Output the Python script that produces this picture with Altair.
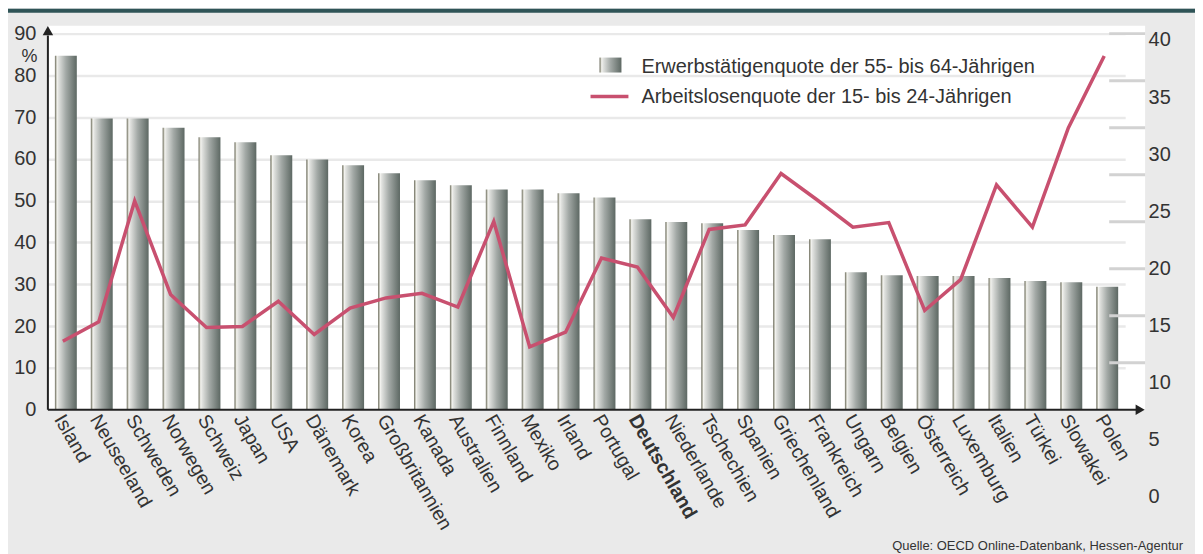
import altair as alt
import pandas as pd

countries = ["Island", "Neuseeland", "Schweden", "Norwegen", "Schweiz", "Japan", "USA",
             "Dänemark", "Korea", "Großbritannien", "Kanada", "Australien", "Finnland",
             "Mexiko", "Irland", "Portugal", "Deutschland", "Niederlande", "Tschechien",
             "Spanien", "Griechenland", "Frankreich", "Ungarn", "Belgien", "Österreich",
             "Luxemburg", "Italien", "Türkei", "Slowakei", "Polen"]
employment = [84.7, 69.7, 69.7, 67.5, 65.2, 64.0, 60.9, 59.9, 58.5, 56.6, 54.9, 53.7, 52.7,
              52.7, 51.8, 50.8, 45.6, 44.9, 44.6, 43.0, 41.8, 40.8, 32.9, 32.2, 32.0, 32.0,
              31.5, 30.8, 30.5, 29.4]
unemployment = [13.6, 15.3, 25.9, 17.7, 14.8, 14.9, 17.1, 14.2, 16.5, 17.4, 17.8, 16.6, 24.1,
                13.1, 14.4, 20.9, 20.1, 15.7, 23.4, 23.8, 28.3, 26.0, 23.6, 24.0, 16.3, 19.0,
                27.3, 23.6, 32.3, 38.6]
left_ticks = [0, 10, 20, 30, 40, 50, 60, 70, 80, 90]
right_ticks = [0, 5, 10, 15, 20, 25, 30, 35, 40]
right_marks = [11.25, 22.5, 33.75, 45, 56.25, 67.5, 78.75, 90]
legend_labels = ["Erwerbstätigenquote der 55- bis 64-Jährigen",
                 "Arbeitslosenquote der 15- bis 24-Jährigen"]
source_text = "Quelle: OECD Online-Datenbank, Hessen-Agentur"

FONT = "Liberation Sans"
TXT = "#333333"
LINE_COLOR = "#c8506f"
W, H = 1100, 385

df = pd.DataFrame({"land": countries, "erw": employment, "alq": unemployment})
one = pd.DataFrame({"a": [0]})

bar_grad = alt.Gradient(
    gradient="linear", x1=0, x2=1, y1=0, y2=0,
    stops=[
        alt.GradientStop(offset=0.0, color="#6c6c5e"),
        alt.GradientStop(offset=0.05, color="#a9a99b"),
        alt.GradientStop(offset=0.1, color="#f4f4f0"),
        alt.GradientStop(offset=0.16, color="#e2e3e0"),
        alt.GradientStop(offset=0.5, color="#a3a9a6"),
        alt.GradientStop(offset=1.0, color="#5d6863"),
    ],
)

xscale = alt.Scale(domain=countries, range=[0, 1080], paddingInner=0.39, paddingOuter=0.195)
yleft = alt.Scale(domain=[0, 90], range=[H, 8], nice=False, zero=False)
yright = alt.Scale(domain=[0, 40], range=[472, 14.4], nice=False, zero=False)

bars = alt.Chart(df).mark_bar(color=bar_grad).encode(
    x=alt.X("land:N", scale=xscale, sort=countries, title=None,
            axis=alt.Axis(labelAngle=60, labelAlign="left", labelBaseline="middle",
                          labelFontSize=19.5, labelFont=FONT, labelColor=TXT,
                          labelPadding=6, labelOffset=-7,
                          labelFontWeight=alt.ExprRef(expr="datum.value == 'Deutschland' ? 'bold' : 'normal'"),
                          ticks=False, domain=False, grid=False, labelOverlap=False)),
    y=alt.Y("erw:Q", scale=yleft, title="%",
            axis=alt.Axis(values=left_ticks, orient="left", labelFontSize=20, labelFont=FONT,
                          labelColor=TXT, labelPadding=12, ticks=False, domain=False,
                          grid=True, gridColor="#e9e9e9", gridWidth=2.5,
                          titleAngle=0, titleX=-19, titleY=40, titleFontSize=18,
                          titleFont=FONT, titleFontWeight="normal", titleColor=TXT)),
)

line = alt.Chart(df).mark_line(color=LINE_COLOR, strokeWidth=3.5, strokeJoin="miter", xOffset=-3).encode(
    x=alt.X("land:N", scale=xscale, sort=countries),
    y=alt.Y("alq:Q", scale=yright, title=None,
            axis=alt.Axis(values=right_ticks, orient="right", labelFontSize=20, labelFont=FONT,
                          labelColor=TXT, labelPadding=3, ticks=False, domain=False, grid=False)),
)

rmarks = alt.Chart(pd.DataFrame({"t": right_marks})).mark_rule(color="#d2d2d2", strokeWidth=3).encode(
    y=alt.Y("t:Q", scale=yleft, axis=None),
    x=alt.value(1064), x2=alt.value(W),
)

yaxis_line = alt.Chart(one).mark_rule(color="#222222", strokeWidth=2).encode(
    x=alt.value(0), y=alt.value(H), y2=alt.value(10))
xaxis_line = alt.Chart(one).mark_rule(color="#222222", strokeWidth=2).encode(
    x=alt.value(0), x2=alt.value(1092), y=alt.value(H))
arrow_up = alt.Chart(one).mark_point(shape="triangle-up", filled=True, size=110, color="#222222", opacity=1).encode(
    x=alt.value(0), y=alt.value(5))
arrow_right = alt.Chart(one).mark_point(shape="triangle-right", filled=True, size=110, color="#222222", opacity=1).encode(
    x=alt.value(1095), y=alt.value(H))

leg_rect = alt.Chart(one).mark_rect(color=bar_grad).encode(
    x=alt.value(553), x2=alt.value(575), y=alt.value(32), y2=alt.value(47))
leg_line = alt.Chart(one).mark_rule(color=LINE_COLOR, strokeWidth=3.5).encode(
    x=alt.value(544), x2=alt.value(582), y=alt.value(71))
leg_t1 = alt.Chart(pd.DataFrame({"t": [legend_labels[0]]})).mark_text(
    align="left", baseline="middle", fontSize=20, font=FONT, color=TXT).encode(
    x=alt.value(595), y=alt.value(41), text="t:N")
leg_t2 = alt.Chart(pd.DataFrame({"t": [legend_labels[1]]})).mark_text(
    align="left", baseline="middle", fontSize=20, font=FONT, color=TXT).encode(
    x=alt.value(595), y=alt.value(72), text="t:N")
src = alt.Chart(pd.DataFrame({"t": [source_text]})).mark_text(
    align="right", baseline="alphabetic", fontSize=13, font=FONT, color=TXT).encode(
    x=alt.value(1138), y=alt.value(526), text="t:N")
topband = alt.Chart(one).mark_rect(color="#2f5457").encode(
    x=alt.value(-40), x2=alt.value(W + 50), y=alt.value(-17), y2=alt.value(-13))

chart = alt.layer(
    bars, rmarks, line, yaxis_line, xaxis_line, arrow_up, arrow_right,
    leg_rect, leg_line, leg_t1, leg_t2, src, topband
).resolve_scale(y="independent").properties(
    width=W, height=H,
    autosize=alt.AutoSizeParams(type="none"),
    padding={"left": 40, "top": 17, "right": 50, "bottom": 146},
    background="#eaeaea",
).configure_view(fill="white", stroke=None)

chart.save("out.html", embed_options={"renderer": "svg", "actions": False})
